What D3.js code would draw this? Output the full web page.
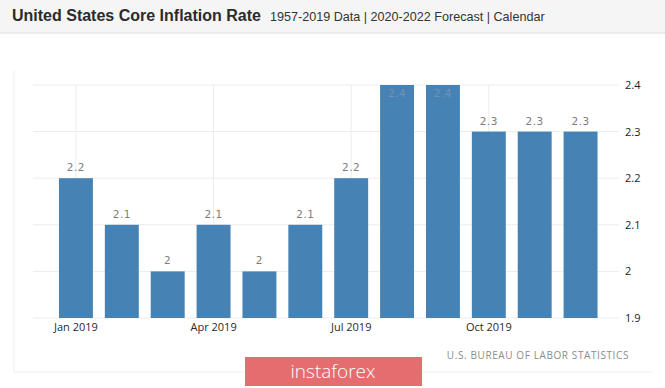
<!DOCTYPE html>
<html>
<head>
<meta charset="utf-8">
<script src="https://cdn.jsdelivr.net/npm/d3@7"></script>
<style>
  body { margin: 0; background: #fff; }
  svg { display: block; }
</style>
</head>
<body>
<div id="chart"></div>
<script>
var width = 665,
	height = 388;

// data
var months = ['Jan 2019', 'Feb 2019', 'Mar 2019', 'Apr 2019', 'May 2019', 'Jun 2019',
	'Jul 2019', 'Aug 2019', 'Sep 2019', 'Oct 2019', 'Nov 2019', 'Dec 2019'];
var rates = [2.2, 2.1, 2, 2.1, 2, 2.1, 2.2, 2.4, 2.4, 2.3, 2.3, 2.3];
var xTickLabels = ['Jan 2019', 'Apr 2019', 'Jul 2019', 'Oct 2019'];
var yTicks = [1.9, 2, 2.1, 2.2, 2.3, 2.4];

var svg = d3.select('#chart').append('svg')
	.attr('width', width)
	.attr('height', height);

// header band
svg.append('rect')
	.attr('x', 0).attr('y', 0)
	.attr('width', width).attr('height', 33)
	.attr('fill', '#f5f5f5');
svg.append('line')
	.attr('x1', 0).attr('x2', width)
	.attr('y1', 33).attr('y2', 33)
	.attr('stroke', '#dedede');

var title = svg.append('text')
	.attr('x', 12).attr('y', 21)
	.style('font-family', 'Arial, "Liberation Sans", sans-serif');
title.append('tspan')
	.attr('font-size', 16)
	.attr('font-weight', 'bold')
	.attr('fill', '#2b2b2b')
	.text('United States Core Inflation Rate');
title.append('tspan')
	.attr('dx', 9)
	.attr('font-size', 12.6)
	.attr('fill', '#333')
	.text('1957-2019 Data | 2020-2022 Forecast | Calendar');

// panel border
svg.append('path')
	.attr('d', 'M14,70 V372 H652')
	.attr('fill', 'none')
	.attr('stroke', '#efefef');

var x = d3.scaleBand()
	.domain(months)
	.range([53, 603.5])
	.paddingInner(0.26)
	.paddingOuter(0.13);

var y = d3.scaleLinear()
	.domain([1.9, 2.4])
	.range([318, 85]);

// horizontal grid
svg.append('g')
	.selectAll('line')
	.data(yTicks)
	.enter().append('line')
	.attr('x1', 33).attr('x2', 619)
	.attr('y1', function(d){ return y(d); })
	.attr('y2', function(d){ return y(d); })
	.attr('stroke', '#ececec');

// vertical grid at labelled months
svg.append('g')
	.selectAll('line')
	.data(xTickLabels)
	.enter().append('line')
	.attr('x1', function(d){ return x(d) + x.bandwidth() / 2; })
	.attr('x2', function(d){ return x(d) + x.bandwidth() / 2; })
	.attr('y1', 85).attr('y2', 318)
	.attr('stroke', '#ececec');

// bars
svg.append('g')
	.selectAll('rect')
	.data(rates)
	.enter().append('rect')
	.attr('x', function(d, i){ return x(months[i]); })
	.attr('width', x.bandwidth())
	.attr('y', function(d){ return y(d); })
	.attr('height', function(d){ return y(1.9) - y(d); })
	.attr('fill', '#4682b4');

// value labels
svg.append('g')
	.selectAll('text')
	.data(rates)
	.enter().append('text')
	.attr('x', function(d, i){ return x(months[i]) + x.bandwidth() / 2; })
	.attr('y', function(d){ return d >= 2.4 ? y(d) + 12 : y(d) - 7; })
	.attr('text-anchor', 'middle')
	.attr('font-family', '"DejaVu Sans", Verdana, sans-serif')
	.attr('font-size', 10.5)
	.attr('letter-spacing', 0.5)
	.attr('fill', function(d){ return d >= 2.4 ? '#6f93b8' : '#7d7d7d'; })
	.text(function(d){ return d; });

// x axis labels
var xAxis = d3.axisBottom(x)
	.tickValues(xTickLabels)
	.tickSize(0)
	.tickPadding(0);
var gx = svg.append('g')
	.attr('transform', 'translate(0,' + 318 + ')')
	.call(xAxis);
gx.select('.domain').remove();
gx.selectAll('text')
	.attr('y', 13)
	.attr('dy', 0)
	.attr('font-family', '"Open Sans", "DejaVu Sans", sans-serif')
	.attr('font-size', 11)
	.attr('fill', '#2a2a2a');

// y axis labels on the right
var yAxis = d3.axisRight(y)
	.tickValues(yTicks)
	.tickFormat(function(d){ return d3.format('')(+d.toFixed(1)); })
	.tickSize(0)
	.tickPadding(0);
var gy = svg.append('g')
	.attr('transform', 'translate(625,0)')
	.call(yAxis);
gy.select('.domain').remove();
gy.selectAll('text')
	.attr('font-family', '"Open Sans", "DejaVu Sans", sans-serif')
	.attr('font-size', 11)
	.attr('fill', '#222');

// source
svg.append('text')
	.attr('x', 629).attr('y', 359)
	.attr('text-anchor', 'end')
	.attr('font-family', '"Open Sans", "DejaVu Sans", sans-serif')
	.attr('font-size', 10)
	.attr('letter-spacing', 0.6)
	.attr('fill', '#8c8c8c')
	.text('U.S. BUREAU OF LABOR STATISTICS');

// instaforex watermark
svg.append('rect')
	.attr('x', 245).attr('y', 357)
	.attr('width', 177).attr('height', 29)
	.attr('fill', '#e56c6f');
svg.append('text')
	.attr('x', 333).attr('y', 378)
	.attr('text-anchor', 'middle')
	.attr('font-family', '"Open Sans", "Noto Sans", sans-serif')
	.attr('font-weight', 300)
	.attr('font-size', 19)
	.attr('fill', '#fff')
	.text('instaforex');
</script>
</body>
</html>
